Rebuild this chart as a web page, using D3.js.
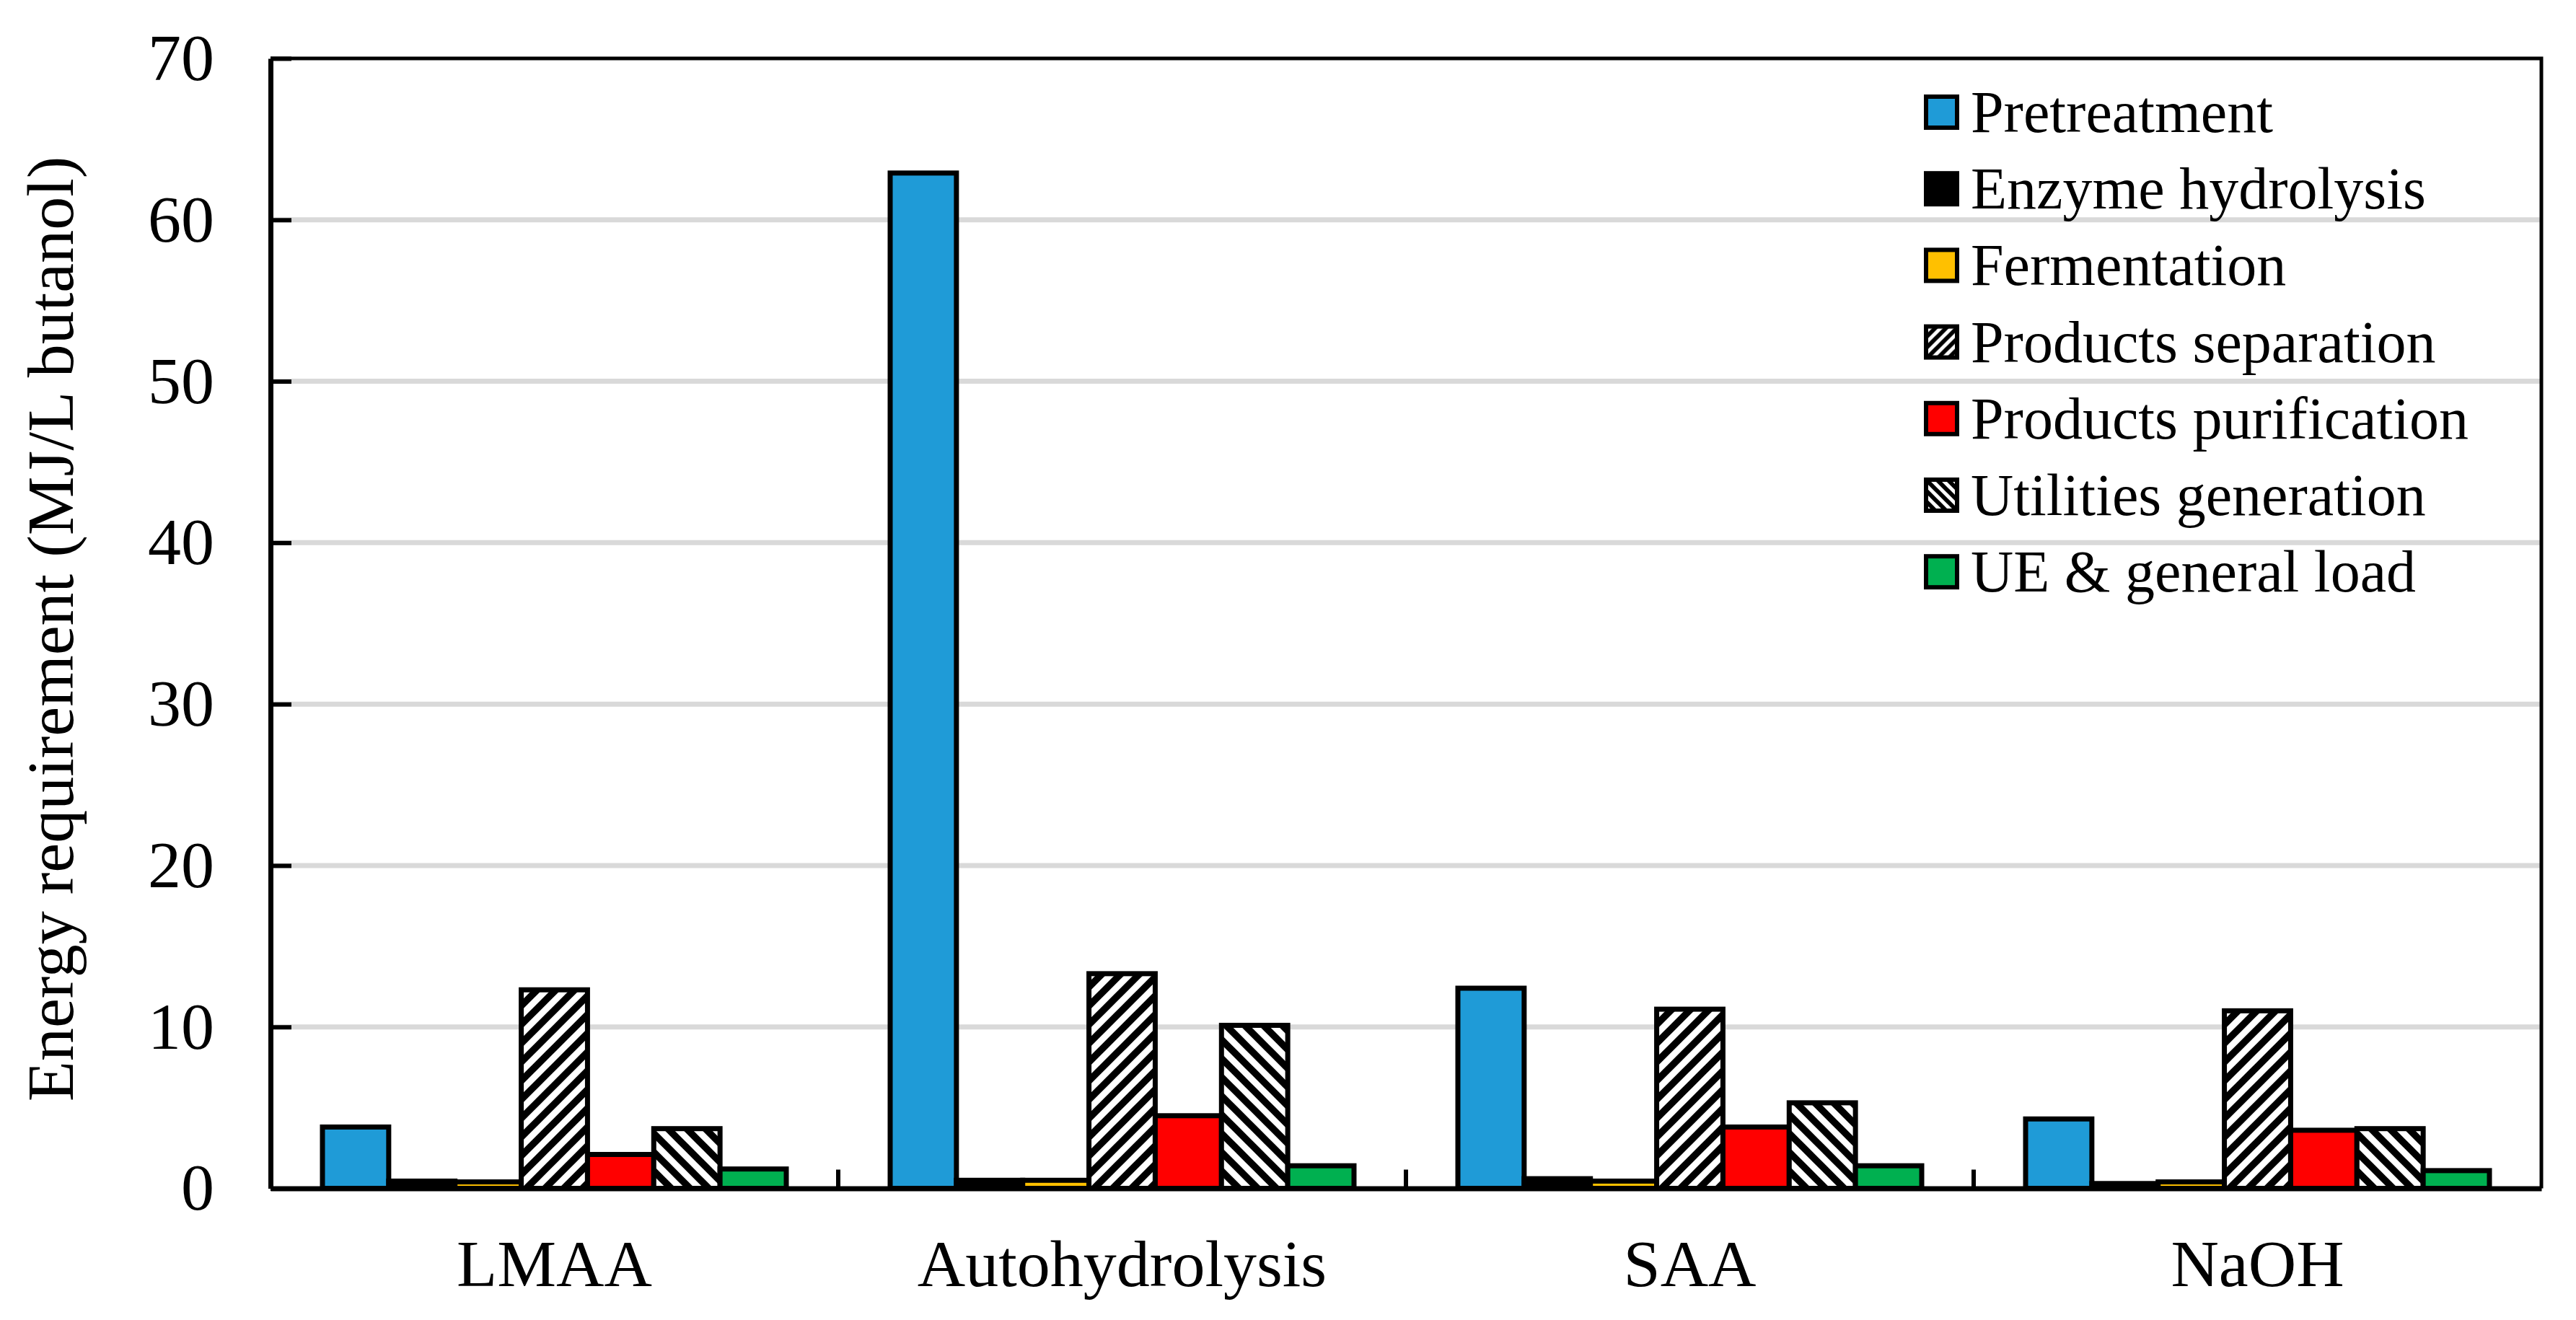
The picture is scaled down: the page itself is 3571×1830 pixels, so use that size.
<!DOCTYPE html>
<html>
<head>
<meta charset="utf-8">
<script src="https://cdn.jsdelivr.net/npm/d3@7"></script>
<style>
	body { margin: 0; background: #fff; }
	text { font-family: "Liberation Serif", "Times New Roman", serif; fill: #000; }
</style>
</head>
<body>
<script>

// chart data
const categories = ["LMAA", "Autohydrolysis", "SAA", "NaOH"]
const seriesNames = ["Pretreatment", "Enzyme hydrolysis", "Fermentation", "Products separation", "Products purification", "Utilities generation", "UE & general load"]
const pretreatment = [3.8, 62.9, 12.4, 4.3]
const enzymeHydrolysis = [0.45, 0.5, 0.6, 0.3]
const fermentation = [0.4, 0.5, 0.45, 0.4]
const productsSeparation = [12.3, 13.3, 11.1, 11.0]
const productsPurification = [2.1, 4.5, 3.8, 3.6]
const utilitiesGeneration = [3.7, 10.1, 5.3, 3.7]
const ueGeneralLoad = [1.2, 1.4, 1.4, 1.1]
const yTicks = [0, 10, 20, 30, 40, 50, 60, 70]

const seriesValues = [pretreatment, enzymeHydrolysis, fermentation, productsSeparation, productsPurification, utilitiesGeneration, ueGeneralLoad]
const fills = ["#1F9BD7", "#000000", "#FFC000", "url(#sepPat)", "#FF0000", "url(#utilPat)", "#00B050"]
const legendFills = ["#1F9BD7", "#000000", "#FFC000", "url(#sepPatS)", "#FF0000", "url(#utilPatS)", "#00B050"]

const W = 3571, H = 1830
const margin = {left: 375, right: 48, top: 81, bottom: 182.5}

const svg = d3.select('body')
	.append('svg')
	.attr('width', W)
	.attr('height', H)

// hatch patterns
const defs = svg.append('defs')
function hatch(id, size, up) {
	let s = size, h = size/4
	let p = defs.append('pattern')
		.attr('id', id)
		.attr('patternUnits', 'userSpaceOnUse')
		.attr('width', s)
		.attr('height', s)
	p.append('rect').attr('width', s).attr('height', s).attr('fill', '#fff')
	let d = up
		? `M0,${s} L${s},0 M${-h},${h} L${h},${-h} M${s-h},${s+h} L${s+h},${s-h}`
		: `M0,0 L${s},${s} M${-h},${s-h} L${h},${s+h} M${s-h},${-h} L${s+h},${h}`
	p.append('path')
		.attr('d', d)
		.attr('stroke', '#000')
		.attr('stroke-width', s/2/Math.SQRT2 + 0.5)
}
hatch('sepPat', 26, true)
hatch('utilPat', 26, false)
hatch('sepPatS', 15, true)
hatch('utilPatS', 15, false)

const x0 = d3.scaleBand()
	.domain(categories)
	.range([margin.left, W - margin.right])
	.paddingInner(0)
	.paddingOuter(0)

const x1 = d3.scaleBand()
	.domain(seriesNames)
	.range([72, x0.bandwidth() - 72])

const y = d3.scaleLinear()
	.domain([0, 70])
	.range([H - margin.bottom, margin.top])

// gridlines
svg.append('g')
	.selectAll('line')
	.data(yTicks.filter(d => d > 0 && d < 70))
	.join('line')
	.attr('x1', margin.left)
	.attr('x2', W - margin.right)
	.attr('y1', d => y(d))
	.attr('y2', d => y(d))
	.attr('stroke', '#D9D9D9')
	.attr('stroke-width', 7)

// bars
const groups = svg.append('g')
	.selectAll('g')
	.data(categories)
	.join('g')
	.attr('transform', d => 'translate(' + x0(d) + ',0)')

groups.selectAll('rect')
	.data((c, ci) => seriesNames.map((s, si) => ({s: s, si: si, v: seriesValues[si][ci]})))
	.join('rect')
	.attr('x', d => x1(d.s))
	.attr('width', x1.bandwidth())
	.attr('y', d => y(d.v))
	.attr('height', d => y(0) - y(d.v))
	.attr('fill', d => fills[d.si])
	.attr('stroke', '#000')
	.attr('stroke-width', 7)

// plot border top / right
svg.append('path')
	.attr('d', 'M' + margin.left + ',' + y(70) + 'H' + (W - margin.right) + 'V' + y(0))
	.attr('fill', 'none')
	.attr('stroke', '#000')
	.attr('stroke-width', 5)

// y axis
const yAxis = svg.append('g')
	.attr('transform', 'translate(' + margin.left + ',0)')
	.call(d3.axisLeft(y).tickValues(yTicks).tickSize(-29).tickSizeOuter(0).tickPadding(78))
yAxis.select('.domain').attr('stroke', '#000').attr('stroke-width', 7)
yAxis.selectAll('.tick line').attr('stroke', '#000').attr('stroke-width', 6)
yAxis.selectAll('text').attr('font-size', 92).attr('font-family', '"Liberation Serif", serif')

// x axis
const xAxis = svg.append('g')
	.attr('transform', 'translate(0,' + y(0) + ')')
	.call(d3.axisBottom(x0).tickSize(0).tickPadding(70))
xAxis.select('.domain').attr('stroke', '#000').attr('stroke-width', 7)
xAxis.selectAll('text').attr('font-size', 92).attr('font-family', '"Liberation Serif", serif')

// category separator ticks
xAxis.append('g')
	.selectAll('line')
	.data(categories.slice(1))
	.join('line')
	.attr('x1', d => x0(d))
	.attr('x2', d => x0(d))
	.attr('y1', 0)
	.attr('y2', -26)
	.attr('stroke', '#000')
	.attr('stroke-width', 6)

// y title
svg.append('text')
	.attr('transform', 'translate(101,872) rotate(-90)')
	.attr('text-anchor', 'middle')
	.attr('font-size', 92)
	.text('Energy requirement (MJ/L butanol)')

// legend
const legend = svg.append('g')
	.attr('transform', 'translate(2670,134)')
const rows = legend.selectAll('g')
	.data(seriesNames)
	.join('g')
	.attr('transform', (d, i) => 'translate(0,' + (i * 106.2) + ')')
rows.append('rect')
	.attr('width', 43)
	.attr('height', 43)
	.attr('fill', (d, i) => legendFills[i])
	.attr('stroke', '#000')
	.attr('stroke-width', 6)
rows.append('text')
	.attr('x', 62)
	.attr('y', 49)
	.attr('font-size', 82)
	.text(d => d)

</script>
</body>
</html>
